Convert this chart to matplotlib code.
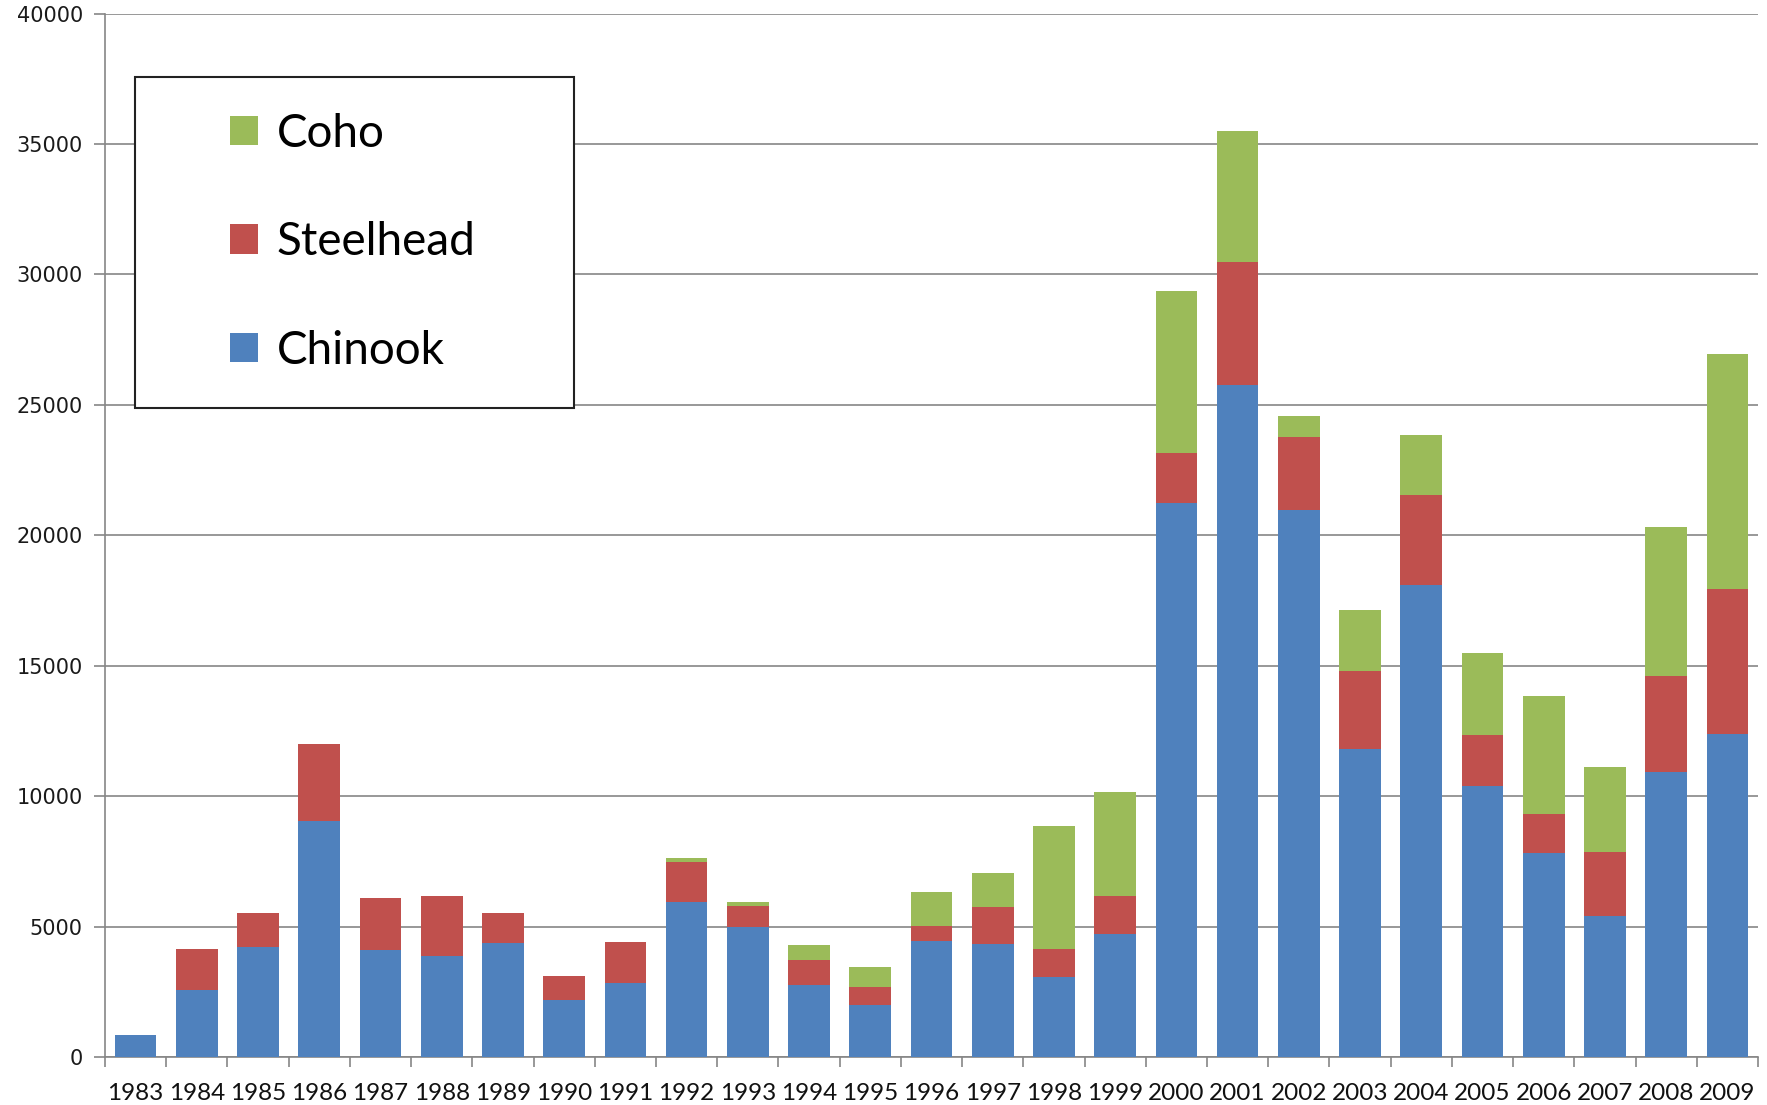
import numpy as np
import matplotlib
matplotlib.use("Agg")
import matplotlib.pyplot as plt
from matplotlib.patches import Rectangle

# values
years = [str(y) for y in range(1983, 2010)]
chinook = [850, 2550, 4230, 9030, 4100, 3890, 4360, 2200, 2850, 5960,
           4970, 2770, 1990, 4450, 4320, 3070, 4710, 21250, 25750, 20950,
           11790, 18100, 10370, 7820, 5400, 10930, 12400]
steelhead = [0, 1600, 1300, 2980, 1990, 2290, 1170, 910, 1560, 1510,
             820, 950, 690, 560, 1420, 1080, 1470, 1900, 4710, 2810,
             3020, 3460, 1990, 1510, 2460, 3670, 5530]
coho = [0, 0, 0, 0, 0, 0, 0, 0, 0, 170,
        170, 560, 780, 1300, 1300, 4710, 3970, 6220, 5050, 820,
        2330, 2290, 3110, 4490, 3240, 5700, 9030]
yticks = [0, 5000, 10000, 15000, 20000, 25000, 30000, 35000, 40000]

BLUE = "#4F81BD"
RED = "#C0504D"
GREEN = "#9BBB59"
GRID = "#868686"

W, H = 1767, 1105
fig = plt.figure(figsize=(W / 100, H / 100), dpi=100)
ax = fig.add_axes([105 / W, 1 - 1057 / H, (1758 - 105) / W, (1057 - 13.5) / H])

x = np.arange(len(years))
chinook = np.array(chinook)
steelhead = np.array(steelhead)
coho = np.array(coho)

b1 = ax.bar(x, chinook, width=0.68, color=BLUE, label="Chinook", zorder=3)
b2 = ax.bar(x, steelhead, width=0.68, bottom=chinook, color=RED,
            label="Steelhead", zorder=3)
b3 = ax.bar(x, coho, width=0.68, bottom=chinook + steelhead, color=GREEN,
            label="Coho", zorder=3)

ax.set_xlim(-0.5, len(years) - 0.5)
ax.set_ylim(0, 40000)
ax.set_yticks(yticks)
ax.set_yticklabels([str(v) for v in yticks], fontsize=15,
                   family="DejaVu Sans", color="#1a1a1a")
ax.yaxis.grid(True, color=GRID, linewidth=1.2, zorder=0)

ax.set_xticks(x)
ax.set_xticklabels(years, fontsize=17.5, family="Lato", color="#111111")
ax.set_xticks(np.arange(-0.5, len(years)), minor=True)
ax.tick_params(axis="x", which="major", length=0, pad=19)
ax.tick_params(axis="x", which="minor", length=7, color=GRID, width=1.2)
ax.tick_params(axis="y", length=8, color=GRID, width=1.2, pad=8)

for side in ("top", "right"):
    ax.spines[side].set_visible(False)
for side in ("left", "bottom"):
    ax.spines[side].set_color(GRID)
    ax.spines[side].set_linewidth(1.2)

# legend frame drawn separately, entries placed inside it
frame = Rectangle((0.018, 0.622), 0.266, 0.317, transform=ax.transAxes,
                  facecolor="white", edgecolor="#222222", linewidth=1.5,
                  zorder=5)
ax.add_patch(frame)
leg = ax.legend(handles=[b3, b2, b1], labels=["Coho", "Steelhead", "Chinook"],
                loc="upper left", bbox_to_anchor=(0.0756, 0.905),
                frameon=False, borderpad=0, borderaxespad=0,
                handlelength=0.62, handleheight=0.62, handletextpad=0.4,
                labelspacing=1.45, prop={"family": "Lato", "size": 33})
leg.set_zorder(6)

fig.savefig("out.png", dpi=100, facecolor="white")
